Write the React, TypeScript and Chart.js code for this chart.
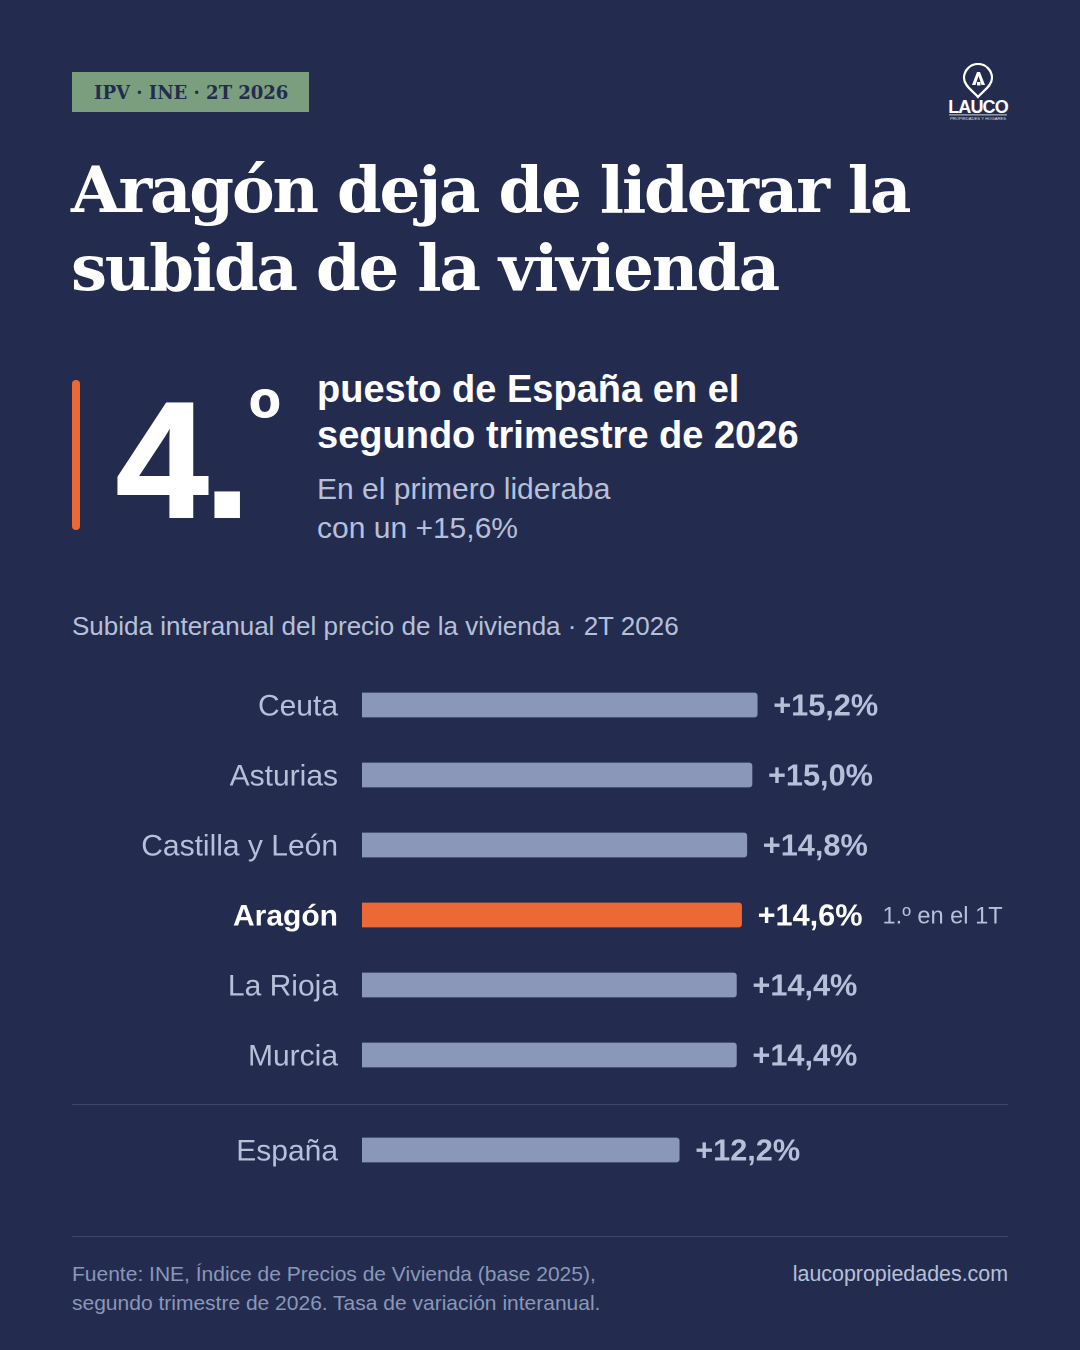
import React, { useEffect, useRef } from "react";
import { Chart, registerables } from "chart.js";

Chart.register(...registerables);

const regions = ["Ceuta", "Asturias", "Castilla y León", "Aragón", "La Rioja", "Murcia"];
const regionValues = [15.2, 15.0, 14.8, 14.6, 14.4, 14.4];
const nationalLabel = ["España"];
const nationalValue = [12.2];
const highlighted = "Aragón";
const highlightNote = "1.º en el 1T";

const BG = "#232C4F";
const ORANGE = "#EC6835";
const BAR = "#8A97B8";
const LABEL = "#B6C0D8";
const SANS = "'Liberation Sans', Arial, sans-serif";
const SERIF = "'DejaVu Serif', serif";

const fmt = (v: number) => "+" + v.toFixed(1).replace(".", ",") + "%";

const valueLabels = {
  id: "valueLabels",
  afterDatasetsDraw(chart: any) {
    const { ctx } = chart;
    const meta = chart.getDatasetMeta(0);
    const labels = chart.data.labels as string[];
    const data = chart.data.datasets[0].data as number[];
    ctx.save();
    ctx.textBaseline = "middle";
    ctx.textAlign = "left";
    meta.data.forEach((bar: any, i: number) => {
      const hi = labels[i] === highlighted;
      const text = fmt(data[i]);
      ctx.font = `700 30.7px ${SANS}`;
      ctx.fillStyle = hi ? "#FFFFFF" : LABEL;
      const x = bar.x + 16;
      ctx.fillText(text, x, bar.y + 2);
      if (hi) {
        const w = ctx.measureText(text).width;
        ctx.font = `400 23.6px ${SANS}`;
        ctx.fillStyle = LABEL;
        ctx.fillText(highlightNote, x + w + 20, bar.y + 2);
      }
    });
    ctx.restore();
  },
};

function Bars({ labels, values, top, height }: { labels: string[]; values: number[]; top: number; height: number }) {
  const ref = useRef<HTMLCanvasElement>(null);
  useEffect(() => {
    const chart = new Chart(ref.current!, {
      type: "bar",
      data: {
        labels,
        datasets: [
          {
            data: values,
            backgroundColor: labels.map((l) => (l === highlighted ? ORANGE : BAR)),
            borderRadius: { topRight: 3, bottomRight: 3, topLeft: 0, bottomLeft: 0 },
            borderSkipped: false,
            barThickness: 24,
          },
        ],
      },
      options: {
        indexAxis: "y",
        animation: false,
        responsive: false,
        devicePixelRatio: 2,
        layout: { padding: { right: 126 } },
        plugins: { legend: { display: false }, tooltip: { enabled: false } },
        scales: {
          x: { display: false, min: 0, max: 20 },
          y: {
            afterFit: (s: any) => {
              s.width = 290;
              s.paddingTop = 0;
              s.paddingBottom = 0;
            },
            grid: { display: false, drawTicks: false },
            border: { display: false },
            ticks: {
              padding: 24,
              labelOffset: 2,
              color: (c: any) => (labels[c.index] === highlighted ? "#FFFFFF" : LABEL),
              font: (c: any) =>
                labels[c.index] === highlighted
                  ? { family: SANS, size: 30, weight: "700" }
                  : { family: SANS, size: 30, weight: "400" },
            },
          },
        },
      } as any,
      plugins: [valueLabels],
    });
    return () => chart.destroy();
  }, []);
  return <canvas ref={ref} width={936} height={height} style={{ position: "absolute", left: 72, top, width: 936, height }} />;
}

const T = ({ s, children }: { s: React.CSSProperties; children: React.ReactNode }) => (
  <div style={{ position: "absolute", whiteSpace: "nowrap", fontFamily: SANS, ...s }}>{children}</div>
);

function Logo() {
  return (
    <svg width="64" height="60" viewBox="0 0 64 60" style={{ position: "absolute", left: 946, top: 63 }}>
      <path
        d="M32 33 C27 27 18 22 18 14 A14 14 0 0 1 46 14 C46 22 37 27 32 33 Z"
        transform="translate(0 1)"
        fill="none"
        stroke="#fff"
        strokeWidth="2.2"
      />
      <path d="M26 22 L31 9 H34 L39 22 H35.5 L32.5 13 L29.5 22 Z" fill="#fff" />
      <path d="M31 19 h3.5 v3.5 h-3.5 Z" fill="#fff" />
      <text x="32" y="50" textAnchor="middle" fontFamily={SANS} fontWeight="700" fontSize="18" letterSpacing="-0.9" fill="#fff">
        LAUCO
      </text>
      <rect x="3" y="51.5" width="58" height="0.8" fill="#fff" />
      <text x="32" y="56.5" textAnchor="middle" fontFamily={SANS} fontSize="4.2" fill="#D8DCE8">
        PROPIEDADES Y HOGARES
      </text>
    </svg>
  );
}

export default function App() {
  return (
    <div style={{ position: "absolute", left: 0, top: 0, width: 1080, height: 1350, background: BG, overflow: "hidden" }}>
      <div style={{ position: "absolute", left: 72, top: 72, width: 237, height: 40, background: "#7A9E7E" }} />
      <T s={{ left: 94, top: 73, lineHeight: "40px", fontFamily: SERIF, fontWeight: 700, fontSize: 18, color: BG }}>IPV · INE · 2T 2026</T>
      <Logo />
      <T s={{ left: 71, top: 151, lineHeight: "78px", fontFamily: SERIF, fontWeight: 700, fontSize: 64, letterSpacing: -2.16, color: "#fff" }}>Aragón deja de liderar la</T>
      <T s={{ left: 71, top: 229, lineHeight: "78px", fontFamily: SERIF, fontWeight: 700, fontSize: 64, letterSpacing: -2.16, color: "#fff" }}>subida de la vivienda</T>

      <div style={{ position: "absolute", left: 72, top: 380, width: 8, height: 150, borderRadius: 4, background: ORANGE }} />
      <T s={{ left: 116, top: 375, lineHeight: "170px", fontWeight: 700, fontSize: 166, letterSpacing: -4, WebkitTextStroke: "2px #fff", color: "#fff" }}>4.</T>
      <T s={{ left: 249, top: 369, lineHeight: "60px", fontWeight: 700, fontSize: 52, WebkitTextStroke: "1px #fff", color: "#fff" }}>o</T>

      <T s={{ left: 317, top: 366, lineHeight: "46px", fontWeight: 700, fontSize: 38, color: "#fff" }}>puesto de España en el</T>
      <T s={{ left: 317, top: 412, lineHeight: "46px", fontWeight: 700, fontSize: 38, color: "#fff" }}>segundo trimestre de 2026</T>
      <T s={{ left: 317, top: 469, lineHeight: "39px", fontSize: 30, color: LABEL }}>En el primero lideraba</T>
      <T s={{ left: 317, top: 508, lineHeight: "39px", fontSize: 30, color: LABEL }}>con un +15,6%</T>

      <T s={{ left: 72, top: 609, lineHeight: "34px", fontSize: 26, color: LABEL }}>Subida interanual del precio de la vivienda · 2T 2026</T>

      <Bars labels={regions} values={regionValues} top={670} height={420} />
      <div style={{ position: "absolute", left: 72, top: 1104, width: 936, height: 1, background: "#3D4769" }} />
      <Bars labels={nationalLabel} values={nationalValue} top={1115} height={70} />

      <div style={{ position: "absolute", left: 72, top: 1236, width: 936, height: 1, background: "#3D4769" }} />
      <T s={{ left: 72, top: 1259, lineHeight: "30px", fontSize: 21, color: "#8A97B8" }}>Fuente: INE, Índice de Precios de Vivienda (base 2025),</T>
      <T s={{ left: 72, top: 1288, lineHeight: "30px", fontSize: 21, color: "#8A97B8" }}>segundo trimestre de 2026. Tasa de variación interanual.</T>
      <T s={{ right: 72, top: 1259, lineHeight: "30px", fontSize: 21.4, color: LABEL }}>laucopropiedades.com</T>
    </div>
  );
}
